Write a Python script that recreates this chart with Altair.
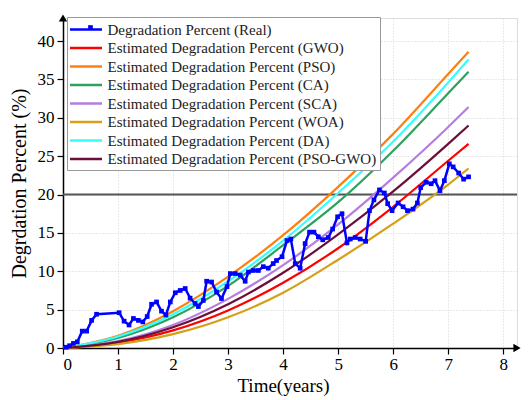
import altair as alt
import pandas as pd

# ---- data ----
real_x = [0.06, 0.12, 0.19, 0.26, 0.35, 0.43, 0.52, 0.61, 1.02, 1.11,
          1.20, 1.28, 1.37, 1.45, 1.53, 1.61, 1.70, 1.79, 1.87, 1.95,
          2.04, 2.13, 2.22, 2.31, 2.40, 2.46, 2.55, 2.61, 2.70, 2.79,
          2.88, 2.98, 3.04, 3.13, 3.22, 3.31, 3.37, 3.46, 3.55, 3.64,
          3.73, 3.82, 3.88, 3.98, 4.07, 4.14, 4.22, 4.31, 4.40, 4.48,
          4.56, 4.64, 4.72, 4.82, 4.90, 4.99, 5.07, 5.16, 5.22, 5.31,
          5.40, 5.50, 5.57, 5.65, 5.75, 5.84, 5.90, 5.98, 6.09, 6.18,
          6.26, 6.36, 6.44, 6.50, 6.60, 6.69, 6.76, 6.85, 6.93, 7.02,
          7.09, 7.19, 7.28, 7.37]
real_y = [0.1, 0.3, 0.6, 0.8, 2.2, 2.2, 3.6, 4.4, 4.6, 3.5,
          3.0, 3.85, 3.6, 3.4, 4.1, 5.7, 6.0, 4.8, 4.3, 6.0,
          7.2, 7.5, 7.75, 6.5, 5.8, 5.4, 6.2, 8.7, 8.6, 7.3,
          6.45, 8.0, 9.7, 9.7, 9.5, 8.7, 9.9, 10.1, 10.1, 10.6,
          10.4, 11.0, 11.4, 11.9, 14.0, 14.2, 11.0, 10.4, 13.6, 15.1,
          15.1, 14.5, 14.1, 14.4, 15.5, 17.1, 17.5, 13.7, 14.2, 14.4,
          14.2, 13.9, 17.9, 19.3, 20.6, 20.2, 18.8, 17.9, 18.9, 18.4,
          17.9, 18.1, 18.9, 20.9, 21.6, 21.4, 21.8, 20.5, 21.8, 24.0,
          23.6, 22.8, 22.0, 22.3]

est_x = [0, 1, 2, 3, 4, 5, 6, 7, 7.37]
est_gwo = [0, 0.7, 2.3, 4.9, 8.5, 13.0, 18.4, 24.4, 26.6]
est_pso = [0, 1.6, 4.8, 9.3, 14.7, 21.0, 27.9, 35.7, 38.6]
est_ca = [0, 1.3, 4.0, 8.1, 13.4, 19.0, 25.7, 33.2, 36.0]
est_sca = [0, 0.9, 3.0, 6.4, 10.8, 16.1, 22.2, 28.8, 31.4]
est_woa = [0, 0.5, 1.8, 4.0, 7.2, 11.5, 16.2, 21.3, 23.4]
est_da = [0, 1.5, 4.4, 8.7, 14.0, 20.2, 26.9, 34.6, 37.6]
est_psogwo = [0, 0.8, 2.7, 5.7, 9.8, 14.8, 20.4, 26.6, 29.0]

series_names = [
    "Degradation Percent (Real)",
    "Estimated Degradation Percent (GWO)",
    "Estimated Degradation Percent (PSO)",
    "Estimated Degradation Percent (CA)",
    "Estimated Degradation Percent (SCA)",
    "Estimated Degradation Percent (WOA)",
    "Estimated Degradation Percent (DA)",
    "Estimated Degradation Percent (PSO-GWO)",
]
series_colors = ["#0000ff", "#ff0000", "#ff7f0e", "#2ca25f", "#b57edc",
                 "#d4a017", "#33ffff", "#6b0f3a"]

threshold = [20]
x_ticks = [i * 0.5 for i in range(17)]
y_ticks = [i * 2.5 for i in range(18)]
X_MAX = 8.25
Y_MAX = 43

# ---- tables ----
est_sets = [est_gwo, est_pso, est_ca, est_sca, est_woa, est_da, est_psogwo]
rows = []
for name, vals in zip(series_names[1:], est_sets):
    for xv, yv in zip(est_x, vals):
        rows.append({"t": xv, "v": yv, "series": name})
est_df = pd.DataFrame(rows)
real_df = pd.DataFrame({"t": real_x, "v": real_y, "series": series_names[0]})
thr_df = pd.DataFrame({"v": threshold})

FONT = "Liberation Serif"
LINE_PATH = "M-2,0L2,0"

legend = alt.Legend(
    title=None, orient="none", legendX=4, legendY=-1,
    labelFont=FONT, labelFontSize=15, labelColor="#222222", labelLimit=0,
    symbolType=LINE_PATH, symbolSize=256, symbolStrokeWidth=2.5,
    symbolOffset=6.5, labelOffset=12, padding=3, rowPadding=0.5,
    strokeColor="#999999", fillColor="white", cornerRadius=0,
)
color = alt.Color("series:N", scale=alt.Scale(domain=series_names, range=series_colors),
                  sort=series_names, legend=legend)

# marker legend overlaid on the first legend entry
marker_legend = alt.Legend(
    title=None, orient="none", legendX=4, legendY=-1,
    labelFont=FONT, labelFontSize=15, labelExpr="''",
    symbolSize=22, symbolFillColor="#0000ff", symbolStrokeColor="#0000ff",
    symbolStrokeWidth=0, symbolOffset=13, padding=3, rowPadding=0.5,
    strokeColor="transparent", fillColor="transparent", zindex=2,
)
shape = alt.Shape("series:N", scale=alt.Scale(domain=series_names[:1], range=["square"]),
                  legend=marker_legend)

x_axis = alt.Axis(
    values=x_ticks, labelExpr="datum.value % 1 === 0 ? format(datum.value, 'd') : ''",
    tickSize={"condition": {"test": "datum.value % 1 === 0", "value": 6}, "value": 3},
    title="Time(years)", grid=True, gridDash=[1, 2], gridColor="#d2d2d2",
    domainColor="black", domainWidth=1.5, tickColor="black", tickWidth=1.2,
    labelFont=FONT, labelFontSize=17, labelColor="black", labelPadding=2,
    titleFont=FONT, titleFontSize=19, titleFontWeight="normal", titleColor="black",
    titlePadding=4, titleX=220,
)
y_axis = alt.Axis(
    values=y_ticks, labelExpr="datum.value % 5 === 0 ? format(datum.value, 'd') : ''",
    tickSize={"condition": {"test": "datum.value % 5 === 0", "value": 6}, "value": 3},
    title="Degrdation Percent (%)", grid=True, gridDash=[1, 2], gridColor="#d2d2d2",
    domainColor="black", domainWidth=1.5, tickColor="black", tickWidth=1.2,
    labelFont=FONT, labelFontSize=17, labelColor="black", labelPadding=3,
    titleFont=FONT, titleFontSize=20, titleFontWeight="normal", titleColor="black",
    titlePadding=8,
)
xs = alt.Scale(domain=[0, X_MAX], nice=False)
ys = alt.Scale(domain=[0, Y_MAX], nice=False)

base_x = alt.X("t:Q", scale=xs, axis=x_axis)
base_y = alt.Y("v:Q", scale=ys, axis=y_axis)

rule = alt.Chart(thr_df).mark_rule(color="#555555", strokeWidth=2).encode(
    y=alt.Y("v:Q", scale=ys, axis=y_axis))

est = alt.Chart(est_df).mark_line(strokeWidth=2.2, interpolate="monotone").encode(
    x=base_x, y=base_y, color=color, detail="series:N")

real_line = alt.Chart(real_df).mark_line(strokeWidth=2.5).encode(
    x=base_x, y=base_y, color=color)
real_pts = alt.Chart(real_df).mark_point(size=22, opacity=1, filled=True).encode(
    x=base_x, y=base_y, fill=alt.value("#0000ff"), shape=shape)

arrow_x = alt.Chart(thr_df).mark_point(shape="triangle-right", filled=True, size=70,
                                       color="black", opacity=1).encode(
    x=alt.datum(X_MAX, scale=xs), y=alt.datum(0, scale=ys))
arrow_y = alt.Chart(thr_df).mark_point(shape="triangle-up", filled=True, size=70,
                                       color="black", opacity=1).encode(
    x=alt.datum(0, scale=xs), y=alt.datum(Y_MAX, scale=ys))

chart = alt.layer(rule, est, real_line, real_pts, arrow_x, arrow_y).properties(
    width=454, height=330,
    padding={"left": 63, "top": 18, "right": 12, "bottom": 52},
    autosize=alt.AutoSizeParams(type="none"),
).configure_view(stroke=None).configure(background="white")

chart.save("out.html", embed_options={"renderer": "svg", "actions": False})
